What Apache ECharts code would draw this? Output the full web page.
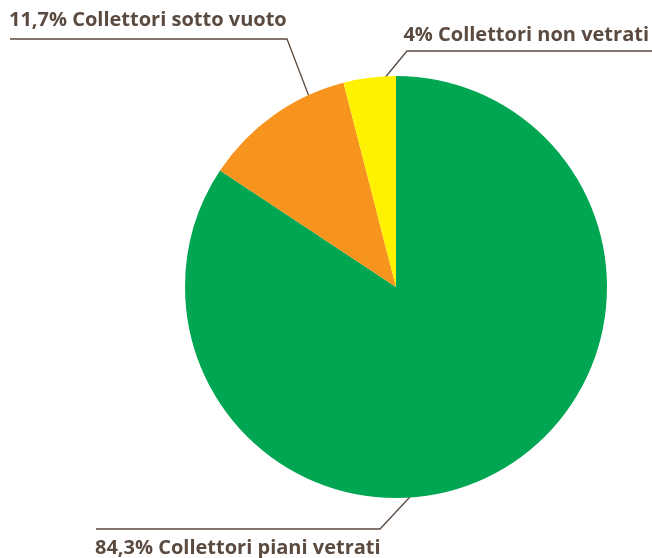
<!DOCTYPE html>
<html><head><meta charset="utf-8">
<script src="https://cdn.jsdelivr.net/npm/echarts@6/dist/echarts.min.js"></script>
<style>html,body{margin:0;padding:0;background:#fff}#c{width:652px;height:558px}</style>
</head><body><div id="c"></div>
<script>
const categories = ['Collettori piani vetrati', 'Collettori sotto vuoto', 'Collettori non vetrati'];
const values = [84.3, 11.7, 4];
const colors = ['#00a651', '#f7941d', '#fff200'];

const textColor = '#5b4a3f';
// label anchor layouts (label positions / leader lines)
const layouts = [
  { x: 95, y: 548, align: 'left', pts: [[449, 455], [380, 529], [96, 529]] },
  { x: 9, y: 20, align: 'left', pts: [[323, 133], [287, 39], [10, 39]] },
  { x: 649, y: 35, align: 'right', pts: [[369, 97], [407, 51], [652, 51]] }
];

const chart = echarts.init(document.getElementById('c'), null, { renderer: 'canvas' });
chart.setOption({
  animation: false,
  series: [{
    type: 'pie',
    center: [396, 287],
    radius: [0, 211],
    startAngle: 90,
    clockwise: true,
    data: categories.map((c, i) => ({ name: c, value: values[i], itemStyle: { color: colors[i] } })),
    itemStyle: { borderWidth: 0 },
    label: {
      show: true,
      position: 'outside',
      overflow: 'none',
      edgeDistance: 0,
      formatter: p => String(p.value).replace('.', ',') + '% ' + p.name,
      fontFamily: 'Open Sans',
      fontWeight: 'bold',
      fontSize: 20,
      color: textColor
    },
    labelLine: { show: true, lineStyle: { color: textColor, width: 1.3 } },
    labelLayout: function (params) {
      const l = layouts[params.dataIndex];
      return { x: l.x, y: l.y, align: l.align, verticalAlign: 'middle', labelLinePoints: l.pts };
    },
    emphasis: { disabled: true }
  }]
});
</script></body></html>
